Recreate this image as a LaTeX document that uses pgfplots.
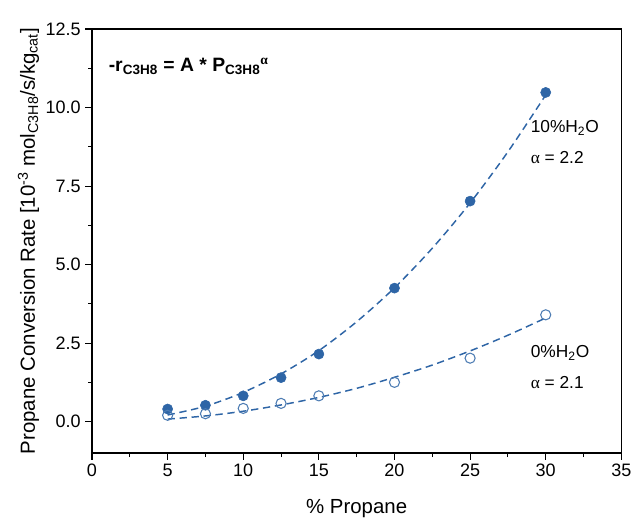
\documentclass[border=0pt]{standalone}
\usepackage{fontspec}
\setmainfont{Liberation Sans}
\newfontfamily\serif{Liberation Serif}
\usepackage{pgfplots}
\pgfplotsset{compat=1.18}
\usetikzlibrary{calc}
\definecolor{blu}{RGB}{46,101,166}

\begin{document}
\begin{tikzpicture}
\begin{axis}[
  scale only axis,
  width=397pt, height=318pt,
  xmin=0, xmax=35, ymin=-1, ymax=12.5,
  xtick={0,5,...,35}, ytick={0,2.5,...,12.5},
  minor x tick num=1, minor y tick num=1,
  tick align=outside, xtick pos=bottom, ytick pos=left,
  major tick length=5pt, minor tick length=3pt,
  tick style={black, line width=0.8pt},
  axis line style={line width=0.9pt},
  /pgf/number format/assume math mode=true,
  yticklabel style={/pgf/number format/fixed, /pgf/number format/fixed zerofill, /pgf/number format/precision=1},
  xticklabel style={/pgf/number format/fixed},
  tick label style={font=\fontsize{13.5}{15}\selectfont},
  label style={font=\fontsize{15.3}{17}\selectfont},
  xlabel={\% Propane},
  ylabel={Propane Conversion Rate [10\textsuperscript{-3} mol\textsubscript{C3H8}/s/kg\textsubscript{cat}]},
  xlabel style={yshift=-10pt},
  ylabel style={yshift=-2pt},
]
% fitted power-law curves
\addplot[blu, line width=1.1pt, dash pattern=on 5.5pt off 3.5pt, smooth] coordinates {
  (5,0.21)(7.5,0.49)(10,0.93)(12.5,1.52)(15,2.26)(17.5,3.18)(20,4.26)(22.5,5.52)(25,6.96)(27.5,8.59)(30,10.40)};
\addplot[blu, line width=1.1pt, dash pattern=on 5.5pt off 3.5pt, smooth] coordinates {
  (5,0.08)(7.5,0.18)(10,0.33)(12.5,0.53)(15,0.77)(17.5,1.06)(20,1.41)(22.5,1.80)(25,2.25)(27.5,2.75)(30,3.30)};
% 10% H2O
\addplot[only marks, mark=*, mark size=3.8pt, blu, mark options={fill=blu, draw=blu}] coordinates {
  (5,0.40)(7.5,0.52)(10,0.82)(12.5,1.40)(15,2.15)(20,4.25)(25,7.02)(30,10.48)};
% 0% H2O
\addplot[only marks, mark=o, mark size=3.8pt, mark options={draw=blu!85, fill=white, line width=0.8pt}] coordinates {
  (5,0.20)(7.5,0.25)(10,0.42)(12.5,0.58)(15,0.82)(20,1.25)(25,2.02)(30,3.40)};
\node[anchor=west, font=\fontsize{14.5}{16}\selectfont\bfseries] at (axis cs:0.8,11.3)
  {-r\textsubscript{C3H8} = A * P\textsubscript{C3H8}\textsuperscript{\serif α}};
\node[anchor=west, font=\fontsize{13}{15}\selectfont] at (axis cs:28.7,9.35) {10\%H\textsubscript{2}O};
\node[anchor=west, font=\fontsize{13}{15}\selectfont] at (axis cs:28.7,8.4) {{\serif α} = 2.2};
\node[anchor=west, font=\fontsize{13}{15}\selectfont] at (axis cs:28.7,2.2) {0\%H\textsubscript{2}O};
\node[anchor=west, font=\fontsize{13}{15}\selectfont] at (axis cs:28.7,1.25) {{\serif α} = 2.1};
\end{axis}
\pgfresetboundingbox
\path ($(current axis.south west)+(-69pt,-48pt)$) rectangle ($(current axis.north east)+(8.75pt,21.75pt)$);
\end{tikzpicture}
\end{document}
